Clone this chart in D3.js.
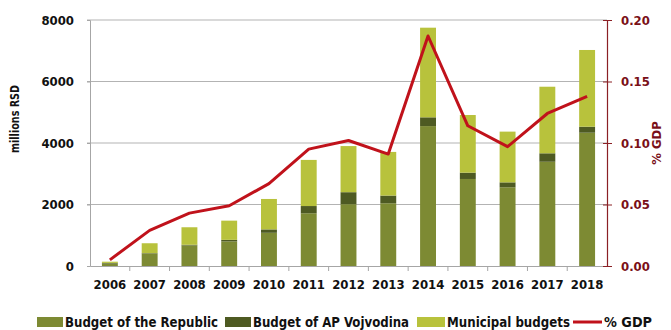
<!DOCTYPE html>
<html><head><meta charset="utf-8">
<script src="https://cdn.jsdelivr.net/npm/d3@7"></script>
<style>
body{margin:0;background:#fff;}
text{font-family:"DejaVu Sans Condensed","Liberation Sans Narrow","Arial Narrow",sans-serif;font-weight:bold;}
</style></head>
<body><svg id="c" width="671" height="330"></svg>
<script>
const years = ["2006","2007","2008","2009","2010","2011","2012","2013","2014","2015","2016","2017","2018"];
const republic = [80, 410, 670, 800, 1080, 1715, 2010, 2040, 4550, 2830, 2560, 3390, 4335];
const vojvodina = [20, 10, 20, 50, 110, 235, 390, 250, 285, 205, 160, 275, 195];
const municipal = [40, 320, 570, 625, 990, 1500, 1500, 1420, 2915, 1875, 1650, 2165, 2495];
const gdpShare = [0.005, 0.029, 0.043, 0.049, 0.067, 0.095, 0.102, 0.091, 0.187, 0.114, 0.097, 0.124, 0.138];
const leftTicks = [0, 2000, 4000, 6000, 8000];
const rightTicks = [0, 0.05, 0.10, 0.15, 0.20];
const seriesNames = ["Budget of the Republic", "Budget of AP Vojvodina", "Municipal budgets", "% GDP"];
const colors = ["#7d8a33", "#4e5a22", "#b8c23c", "#c0121b"];

const svg = d3.select("#c");
const L = 90, R = 607, T = 20, B = 266;
const x = d3.scaleBand().domain(years).range([L, R]).paddingInner(0.6).paddingOuter(0.3);
const xb = d3.scaleBand().domain(years).range([L, R]);
const y = d3.scaleLinear().domain([0, 8000]).range([B, T]);
const y2 = d3.scaleLinear().domain([0, 0.2]).range([B, T]);

// gridlines
svg.append("g").selectAll("line").data(leftTicks.slice(1)).join("line")
  .attr("x1", L - 3).attr("x2", R).attr("y1", d => y(d)).attr("y2", d => y(d))
  .attr("stroke", "#b3b3b3").attr("stroke-width", 1);

// stacked bars
const rows = years.map((yr, i) => ({yr, r: republic[i], v: vojvodina[i], m: municipal[i]}));
const stack = d3.stack().keys(["r", "v", "m"])(rows);
svg.append("g").selectAll("g").data(stack).join("g")
  .attr("fill", (d, i) => colors[i])
  .selectAll("rect").data(d => d).join("rect")
  .attr("x", d => x(d.data.yr)).attr("width", x.bandwidth())
  .attr("y", d => y(d[1])).attr("height", d => y(d[0]) - y(d[1]));

// left axis
const gl = svg.append("g").attr("transform", `translate(${L},0)`)
  .call(d3.axisLeft(y).tickValues(leftTicks).tickSize(3).tickPadding(13).tickFormat(d3.format("d")));
gl.select(".domain").attr("stroke", "#a6a6a6");
gl.selectAll(".tick line").attr("stroke", "#a6a6a6");
gl.selectAll("text").attr("font-size", 13).attr("fill", "#111");

// bottom axis
const gb = svg.append("g").attr("transform", `translate(0,${B})`)
  .call(d3.axisBottom(xb).tickSize(0).tickPadding(14));
gb.select(".domain").attr("stroke", "#a6a6a6");
gb.selectAll("text").attr("font-size", 13).attr("fill", "#111");
svg.append("g").selectAll("line").data(years.slice(1)).join("line")
  .attr("x1", d => xb(d)).attr("x2", d => xb(d)).attr("y1", B).attr("y2", B + 5)
  .attr("stroke", "#a6a6a6");

// right axis
const gr = svg.append("g").attr("transform", `translate(${R},0)`)
  .call(d3.axisRight(y2).tickValues(rightTicks).tickSize(5).tickPadding(9).tickFormat(d3.format(".2f")));
gr.select(".domain").attr("stroke", "#8b2025").attr("stroke-width", 1.2);
gr.selectAll(".tick line").attr("stroke", "#8b2025").attr("x1", -4);
gr.selectAll("text").attr("font-size", 13).attr("fill", "#7a1018");

// line
svg.append("path").datum(gdpShare)
  .attr("fill", "none").attr("stroke", colors[3]).attr("stroke-width", 3).attr("stroke-linejoin", "round")
  .attr("d", d3.line().x((d, i) => xb(years[i]) + xb.bandwidth() / 2).y(d => y2(d)));

// axis titles
svg.append("text").attr("transform", "translate(19,119) rotate(-90)")
  .attr("text-anchor", "middle").attr("font-size", 12).attr("font-weight", "normal").style("font-weight", "600")
  .attr("fill", "#111").attr("textLength", 68).attr("lengthAdjust", "spacingAndGlyphs").text("millions RSD");
svg.append("text").attr("transform", "translate(661,143) rotate(-90)")
  .attr("text-anchor", "middle").attr("font-size", 13).attr("fill", "#7a1018").text("% GDP");

// legend
const lg = svg.append("g").attr("transform", "translate(0,322)");
const items = [
  {x: 37, w: 26, tw: 153, t: seriesNames[0], c: colors[0], type: "rect"},
  {x: 225, w: 26, tw: 156, t: seriesNames[1], c: colors[1], type: "rect"},
  {x: 417, w: 28, tw: 123, t: seriesNames[2], c: colors[2], type: "rect"},
  {x: 573, w: 29, tw: 48, t: seriesNames[3], c: colors[3], type: "line"}
];
items.forEach(it => {
  if (it.type === "rect") lg.append("rect").attr("x", it.x).attr("y", -5).attr("width", it.w).attr("height", 10).attr("fill", it.c);
  else lg.append("line").attr("x1", it.x).attr("x2", it.x + it.w).attr("y1", 0).attr("y2", 0).attr("stroke", it.c).attr("stroke-width", 3);
  lg.append("text").attr("x", it.x + it.w + 2).attr("y", 0).attr("dy", "0.35em").attr("font-size", 14)
    .attr("textLength", it.tw).attr("lengthAdjust", "spacingAndGlyphs").attr("fill", "#111").text(it.t);
});
</script></body></html>
